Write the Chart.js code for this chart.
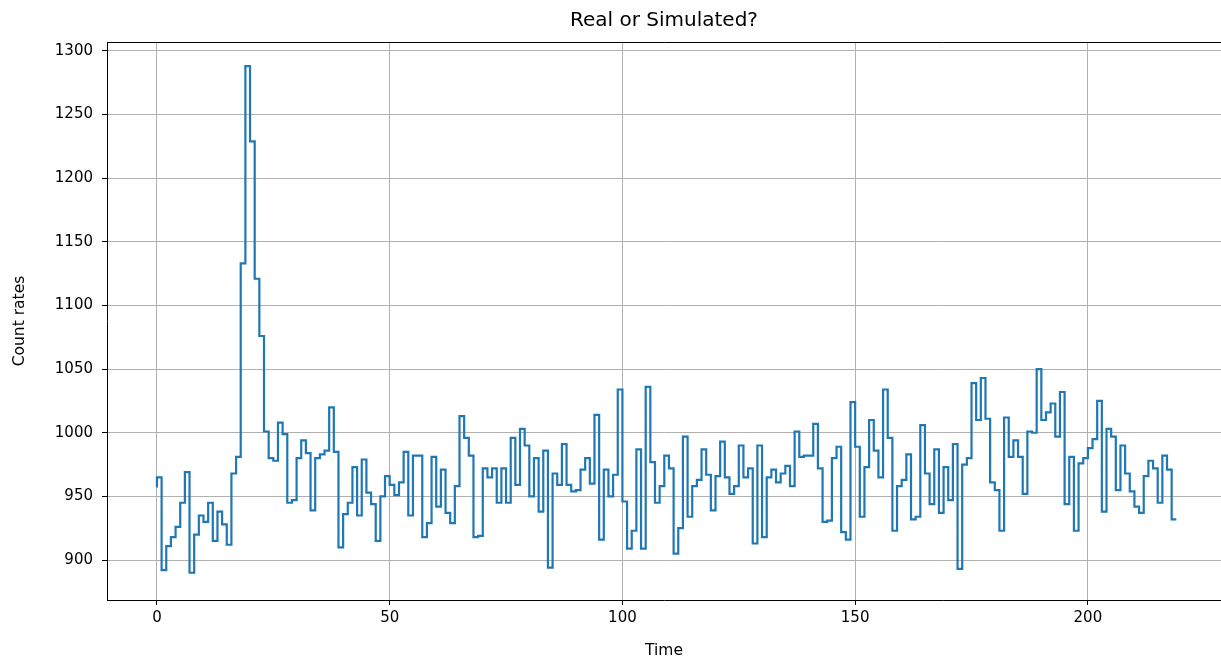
<!DOCTYPE html>
<html><head><meta charset="utf-8">
<script src="https://cdn.jsdelivr.net/npm/chart.js@4/dist/chart.umd.min.js"></script>
<style>html,body{margin:0;padding:0;background:#fff;}</style>
</head><body>
<canvas id="c" width="1221" height="664"></canvas>
<script>
const chartTitle = 'Real or Simulated?';
const xLabel = 'Time';
const yLabel = 'Count rates';
const xTicks = [0, 50, 100, 150, 200];
const yTicks = [900, 950, 1000, 1050, 1100, 1150, 1200, 1250, 1300];
const counts = [
 957, 965, 892, 911, 918, 926, 945, 969, 890, 920,
 935, 930, 945, 915, 938, 928, 912, 968, 981, 1133,
 1288, 1229, 1121, 1076, 1001, 980, 978, 1008, 999, 945,
 947, 980, 994, 984, 939, 980, 983, 986, 1020, 985,
 910, 936, 945, 973, 935, 979, 953, 944, 915, 950,
 966, 959, 951, 961, 985, 935, 982, 982, 918, 929,
 981, 942, 971, 937, 929, 958, 1013, 996, 982, 918,
 919, 972, 965, 972, 945, 972, 945, 996, 959, 1003,
 990, 950, 980, 938, 986, 894, 968, 959, 991, 959,
 954, 955, 971, 980, 960, 1014, 916, 971, 950, 967,
 1034, 946, 909, 923, 987, 909, 1036, 977, 945, 958,
 982, 972, 905, 925, 997, 934, 958, 963, 987, 967,
 939, 966, 993, 965, 952, 958, 990, 965, 972, 913,
 990, 918, 965, 971, 961, 968, 974, 958, 1001, 981,
 982, 982, 1007, 972, 930, 931, 980, 989, 922, 916,
 1024, 989, 934, 973, 1010, 986, 965, 1034, 996, 923,
 958, 963, 983, 932, 934, 1006, 968, 944, 987, 937,
 973, 947, 991, 893, 975, 980, 1039, 1010, 1043, 1011,
 961, 955, 923, 1012, 981, 994, 981, 952, 1001, 1000,
 1050, 1010, 1016, 1023, 997, 1032, 944, 981, 923, 976,
 980, 988, 995, 1025, 938, 1003, 997, 955, 990, 968,
 954, 942, 937, 966, 978, 972, 945, 982, 971, 932
];

const FONT = 'DejaVu Sans';
const frame = {
  id: 'frame',
  afterDatasetsDraw(chart) {
    const {ctx, chartArea: a} = chart;
    ctx.save();
    ctx.strokeStyle = '#000';
    ctx.lineWidth = 1;
    ctx.beginPath();
    ctx.moveTo(Math.round(a.left) + 0.5, Math.round(a.top) + 0.5);
    ctx.lineTo(1221, Math.round(a.top) + 0.5);
    ctx.stroke();
    ctx.restore();
  }
};

new Chart(document.getElementById('c'), {
  type: 'line',
  data: {
    datasets: [{
      data: counts.map((v, i) => ({x: i, y: v})),
      borderColor: '#1f77b4',
      borderWidth: 2.2,
      pointRadius: 0,
      stepped: 'after',
      fill: false
    }]
  },
  options: {
    responsive: false,
    animation: false,
    layout: {padding: {top: 0, right: 0, left: 0, bottom: 0}},
    plugins: {
      legend: {display: false},
      tooltip: {enabled: false},
      title: {display: true, fullSize: false, text: chartTitle, color: '#000',
        font: {family: FONT, size: 20, weight: 'normal'}, padding: {top: 9, bottom: 9}}
    },
    scales: {
      x: {
        type: 'linear', min: -10.73, max: 228.6,
        afterBuildTicks: s => { s.ticks = xTicks.map(v => ({value: v})); },
        afterFit: s => { s.height = 64; },
        ticks: {color: '#000', font: {family: FONT, size: 15}, padding: 4, maxRotation: 0, autoSkip: false,
          callback: v => String(v)},
        grid: {color: '#b0b0b0', lineWidth: 1, tickLength: 5, tickColor: '#000', tickWidth: 1},
        border: {color: '#000', width: 1},
        title: {display: true, text: xLabel, color: '#000', font: {family: FONT, size: 15.5}, padding: {top: 0, bottom: 4}}
      },
      y: {
        type: 'linear', min: 868.6, max: 1307,
        afterBuildTicks: s => { s.ticks = yTicks.map(v => ({value: v})); },
        afterFit: s => { s.width = 107; },
        ticks: {color: '#000', font: {family: FONT, size: 15}, padding: 9, autoSkip: false,
          callback: v => String(v)},
        grid: {color: '#b0b0b0', lineWidth: 1, tickLength: 5, tickColor: '#000', tickWidth: 1},
        border: {color: '#000', width: 1},
        title: {display: true, text: yLabel, color: '#000', font: {family: FONT, size: 15.5}, padding: {top: 11, bottom: 0}}
      }
    }
  },
  plugins: [frame]
});
</script>
</body></html>
